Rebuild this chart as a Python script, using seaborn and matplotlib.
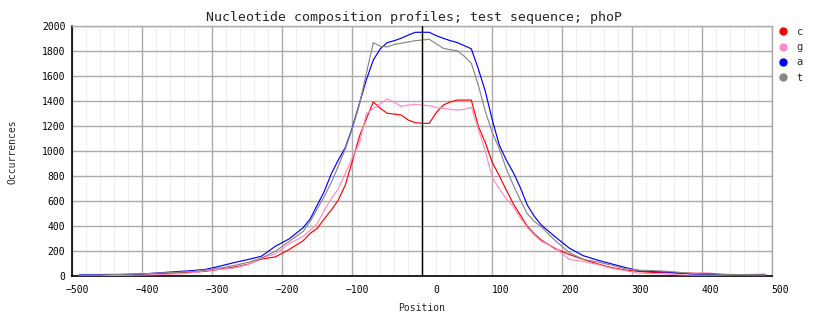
import numpy as np
import pandas as pd
import matplotlib
matplotlib.use("Agg")
import matplotlib.pyplot as plt
import matplotlib.transforms as mtransforms
from matplotlib.lines import Line2D
import seaborn as sns

# ---------------- data ----------------
positions = ([-490, -470, -450, -430, -410, -390, -370, -350, -330, -310, -290, -270, -250, -230, -210, -190, -170]
             + list(range(-160, 170, 10))
             + [170, 190, 210, 230, 250, 270, 290, 310, 330, 350, 370, 390, 410, 430, 450, 470, 490])

c_vals = [5, 5, 8, 10, 15, 18, 22, 28, 32, 40, 56, 72, 95, 138, 155, 215, 285,
          344, 384, 460, 530, 610, 730, 920, 1117, 1260, 1395, 1344, 1304, 1298, 1290, 1250, 1229,
          1224, 1224, 1310, 1370, 1395, 1410, 1410, 1410, 1200, 1070, 910, 805, 690, 580, 490, 400, 340,
          290, 220, 175, 135, 100, 70, 50, 38, 30, 28, 25, 24, 24, 14, 12, 14, 16]
g_vals = [3, 3, 5, 8, 10, 12, 15, 18, 28, 45, 55, 65, 92, 145, 180, 262, 320,
          370, 420, 530, 620, 700, 820, 950, 1064, 1300, 1344, 1380, 1421, 1390, 1360, 1370, 1376,
          1370, 1365, 1350, 1344, 1335, 1330, 1335, 1352, 1180, 1000, 790, 700, 620, 557, 470, 390, 330,
          280, 228, 135, 118, 95, 65, 45, 25, 22, 18, 12, 10, 10, 8, 8, 8, 8]
a_vals = [12, 12, 15, 15, 18, 22, 30, 38, 45, 55, 80, 108, 133, 160, 240, 300, 390,
          460, 570, 680, 820, 930, 1030, 1190, 1380, 1570, 1730, 1820, 1870, 1885, 1905, 1930, 1952,
          1952, 1952, 1925, 1904, 1885, 1870, 1845, 1820, 1660, 1480, 1250, 1050, 930, 830, 710, 570, 480,
          410, 315, 225, 165, 130, 100, 70, 45, 38, 35, 25, 18, 15, 12, 10, 10, 10]
t_vals = [8, 8, 12, 15, 18, 22, 28, 32, 38, 50, 65, 85, 110, 145, 200, 280, 360,
          440, 540, 640, 750, 880, 1020, 1180, 1370, 1620, 1869, 1840, 1835, 1855, 1865, 1875, 1885,
          1890, 1896, 1860, 1824, 1812, 1805, 1760, 1705, 1530, 1320, 1150, 1020, 860, 730, 610, 500, 440,
          395, 285, 190, 135, 115, 90, 60, 48, 45, 40, 30, 22, 18, 16, 14, 12, 12]

bases = ["c", "g", "a", "t"]
colors = {"c": "#ff0000", "g": "#ff8cc4", "a": "#0000ff", "t": "#888888"}
x_ticks = [-500, -400, -300, -200, -100, 0, 100, 200, 300, 400, 500]
y_ticks = [0, 200, 400, 600, 800, 1000, 1200, 1400, 1600, 1800, 2000]

df = pd.concat([
    pd.DataFrame({"Position": positions, "Occurrences": v, "base": b})
    for b, v in zip(bases, [c_vals, g_vals, a_vals, t_vals])
], ignore_index=True)

# ---------------- style ----------------
sns.set_style("white")
plt.rcParams["font.family"] = ["DejaVu Sans Mono", "DejaVu Sans"]

fig = plt.figure(figsize=(8.28, 3.28), dpi=100)
ax = fig.add_axes([72.3 / 828, 1 - 276.3 / 328, 700 / 828, 250 / 328])

ax.set_xlim(-500, 500)
ax.set_ylim(0, 2000)
ax.set_xticks(x_ticks)
ax.set_yticks(y_ticks)
ax.set_xticks(np.arange(-500, 501, 20), minor=True)
ax.grid(which="minor", axis="x", color="#eeeeee", lw=0.8, zorder=0)
ax.grid(which="major", axis="both", color="#aaaaaa", lw=1.0, zorder=0.5)
ax.set_axisbelow(True)

for b in bases:
    sns.lineplot(data=df[df["base"] == b], x="Position", y="Occurrences",
                 color=colors[b], lw=0.85, estimator=None, sort=False,
                 legend=False, ax=ax, zorder=3)

ax.axvline(0, color="black", lw=1.0, zorder=4)

for s in ["left", "bottom"]:
    ax.spines[s].set_color("black")
    ax.spines[s].set_linewidth(1.2)
for s in ["top", "right"]:
    ax.spines[s].set_color("#aaaaaa")
    ax.spines[s].set_linewidth(1.0)

ax.tick_params(axis="both", length=0, labelsize=7, colors="black")
ax.tick_params(axis="y", pad=5)
ax.tick_params(axis="x", pad=6)
offset = mtransforms.ScaledTranslation(17 / 100, 0, fig.dpi_scale_trans)
for lab in ax.get_xticklabels():
    lab.set_horizontalalignment("right")
    lab.set_transform(lab.get_transform() + offset)

ax.set_xlabel("Position", fontsize=7)
ax.set_ylabel("Occurrences", fontsize=7)
ax.xaxis.set_label_coords(0.499, -0.107)
ax.yaxis.set_label_coords(-0.0776, 0.5)
ax.set_title("Nucleotide composition profiles; test sequence; phoP",
             fontsize=9.5, x=0.488, pad=4)

handles = [Line2D([], [], ls="none", marker="o", markersize=5,
                  color=colors[b], markeredgecolor=colors[b]) for b in bases]
fig.legend(handles, bases, loc="upper left", bbox_to_anchor=(779 / 828, 1 - 27 / 328),
           frameon=False, fontsize=7.5, handlelength=0.8, handletextpad=0.9,
           labelspacing=0.5, borderpad=0, borderaxespad=0)

fig.savefig("out.png", dpi=100)
